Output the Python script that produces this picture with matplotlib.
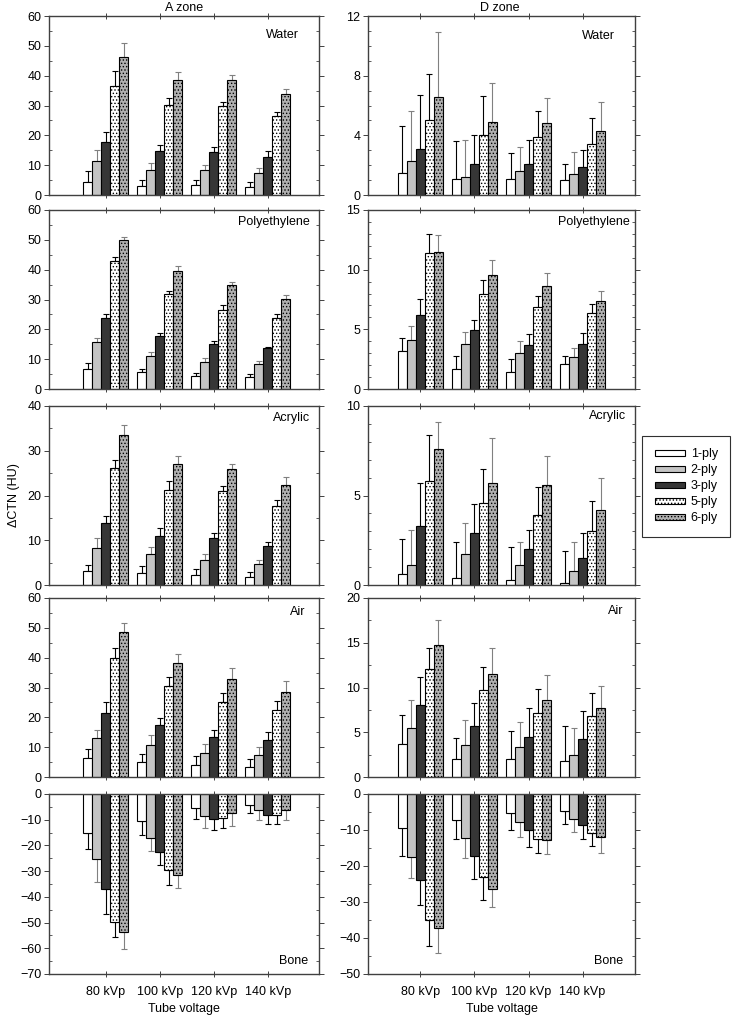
import matplotlib
matplotlib.use('Agg')
import matplotlib.pyplot as plt
import numpy as np
from matplotlib.ticker import MultipleLocator
from matplotlib.patches import Rectangle

plt.rcParams['font.family'] = ['Liberation Sans', 'DejaVu Sans']
plt.rcParams['hatch.linewidth'] = 0.6

voltages = ['80 kVp', '100 kVp', '120 kVp', '140 kVp']
plies = ['1-ply', '2-ply', '3-ply', '5-ply', '6-ply']
materials = ['Water', 'Polyethylene', 'Acrylic', 'Air', 'Bone']

# rows = ply (1,2,3,5,6), columns = tube voltage (80,100,120,140)
a_water = [[4.4, 3.0, 3.3, 2.8], [11.4, 8.4, 8.4, 7.4], [17.6, 14.6, 14.3, 12.9],
           [36.6, 30.1, 29.9, 26.4], [46.2, 38.4, 38.6, 33.9]]
a_water_err = [[3.7, 1.9, 1.6, 1.6], [3.6, 2.2, 1.8, 1.7], [3.5, 2.1, 1.7, 1.9],
               [5.0, 2.5, 1.3, 1.4], [4.6, 2.9, 1.5, 1.7]]
d_water = [[1.47, 1.09, 1.09, 1.0], [2.28, 1.2, 1.6, 1.4], [3.1, 2.08, 2.08, 1.9],
           [5.02, 4.0, 3.9, 3.42], [6.6, 4.91, 4.82, 4.31]]
d_water_err = [[3.13, 2.51, 1.72, 1.08], [3.34, 2.48, 1.61, 1.5], [3.6, 1.92, 1.6, 1.1],
               [3.11, 2.63, 1.72, 1.71], [4.3, 2.59, 1.7, 1.92]]

a_poly = [[6.8, 5.6, 4.4, 4.0], [15.9, 11.1, 9.2, 8.4], [23.9, 17.9, 15.0, 13.6],
          [42.8, 32.0, 26.6, 23.9], [49.9, 39.7, 34.7, 30.2]]
a_poly_err = [[1.9, 1.1, 0.8, 0.9], [1.3, 1.3, 1.2, 1.1], [1.2, 0.9, 1.1, 0.5],
              [1.6, 1.0, 1.4, 1.4], [1.2, 1.6, 1.2, 1.4]]
d_poly = [[3.16, 1.70, 1.45, 2.07], [4.08, 3.80, 2.99, 2.68], [6.17, 4.94, 3.69, 3.80],
          [11.37, 7.99, 6.87, 6.40], [11.45, 9.58, 8.60, 7.37]]
d_poly_err = [[1.11, 1.07, 1.04, 0.7], [1.2, 0.98, 1.0, 0.78], [1.4, 0.84, 0.89, 0.86],
              [1.62, 1.17, 0.9, 0.69], [1.43, 1.2, 1.09, 0.81]]

a_acrylic = [[3.1, 2.75, 2.2, 1.8], [8.2, 6.9, 5.6, 4.7], [13.9, 10.85, 10.6, 8.7],
             [26.2, 21.3, 21.1, 17.7], [33.5, 27.0, 25.9, 22.4]]
a_acrylic_err = [[1.4, 1.45, 1.4, 1.0], [2.3, 1.6, 1.3, 0.9], [1.6, 1.85, 1.1, 0.9],
                 [1.7, 1.9, 1.0, 1.3], [2.3, 1.9, 1.1, 1.7]]
d_acrylic = [[0.6, 0.39, 0.3, 0.09], [1.12, 1.71, 1.12, 0.78], [3.31, 2.9, 1.99, 1.49],
             [5.8, 4.59, 3.9, 2.99], [7.58, 5.7, 5.6, 4.2]]
d_acrylic_err = [[1.98, 1.99, 1.8, 1.81], [1.98, 1.78, 1.26, 1.6], [2.38, 1.6, 1.11, 1.41],
                 [2.6, 1.91, 1.6, 1.71], [1.52, 2.5, 1.6, 1.8]]

a_air = [[6.5, 4.9, 3.9, 3.4], [13.2, 10.6, 8.2, 7.3], [21.5, 17.4, 13.3, 12.3],
         [39.9, 30.6, 25.1, 22.6], [48.6, 38.3, 32.9, 28.6]]
a_air_err = [[3.0, 2.9, 3.2, 2.8], [2.7, 3.4, 2.7, 2.9], [3.8, 2.5, 2.6, 2.8],
             [3.2, 3.0, 2.9, 3.0], [2.9, 2.8, 3.5, 3.7]]
d_air = [[3.68, 2.0, 2.0, 1.82], [5.46, 3.53, 3.31, 2.42], [7.99, 5.72, 4.5, 4.24],
         [12.04, 9.67, 7.1, 6.8], [14.8, 11.56, 8.62, 7.7]]
d_air_err = [[3.23, 2.39, 3.13, 3.83], [3.13, 2.83, 2.79, 3.04], [3.2, 2.53, 3.23, 3.12],
             [2.42, 2.63, 2.71, 2.64], [2.78, 2.83, 2.83, 2.45]]

a_bone = [[-15.3, -10.4, -5.5, -4.2], [-25.4, -17.1, -8.6, -6.4], [-37.0, -22.7, -9.7, -8.2],
          [-49.9, -29.5, -9.2, -8.2], [-53.5, -31.4, -7.5, -6.2]]
a_bone_err = [[6.1, 5.4, 4.2, 3.2], [8.9, 5.1, 4.6, 3.9], [9.6, 5.0, 4.3, 3.5],
              [5.9, 6.0, 4.0, 3.5], [6.8, 5.1, 5.1, 3.9]]
d_bone = [[-9.4, -7.2, -5.3, -4.7], [-17.4, -12.3, -7.8, -6.9], [-23.9, -17.1, -10.0, -8.7],
          [-35.0, -23.1, -12.5, -10.9], [-37.1, -26.3, -12.9, -11.9]]
d_bone_err = [[7.8, 5.2, 4.6, 3.6], [5.8, 5.5, 4.2, 3.7], [7.0, 6.6, 4.7, 3.8],
              [7.3, 6.4, 3.9, 3.6], [7.2, 5.1, 3.7, 4.5]]

a_data = [(a_water, a_water_err), (a_poly, a_poly_err), (a_acrylic, a_acrylic_err),
          (a_air, a_air_err), (a_bone, a_bone_err)]
d_data = [(d_water, d_water_err), (d_poly, d_poly_err), (d_acrylic, d_acrylic_err),
          (d_air, d_air_err), (d_bone, d_bone_err)]

a_ylims = [(0, 60), (0, 60), (0, 40), (0, 60), (-70, 0)]
a_major = [10, 10, 10, 10, 10]
a_minor = [5, 5, 5, 5, 5]
d_ylims = [(0, 12), (0, 15), (0, 10), (0, 20), (-50, 0)]
d_major = [4, 5, 5, 5, 10]
d_minor = [1, 1, 1, 2.5, 5]

# styles
face_colors = ['white', '#c4c4c4', '#363636', 'white', '#b0b0b0']
hatches = [None, None, None, '.....', '.....']
err_colors = ['black', '#808080', 'black', 'black', '#808080']

W, H = 733, 1017
fig = plt.figure(figsize=(W / 100, H / 100), dpi=100)

rows_px = [(16, 195), (210, 389), (406, 585), (598, 777), (794, 974)]
cols_px = [(49, 319), (368, 635)]
col_xlims = [(-1.05, 3.95), (-0.97, 3.97)]

# label offsets (px) from top-right (or bottom-right for Bone)
a_lab_off = [(-20, 19), (-9, 12), (-9, 12), (-14, 14), (-11, 13)]
d_lab_off = [(-20, 20), (-5, 12), (-9, 10), (-12, 13), (-12, 13)]

fs = 9
bw = 1.0 / 6.0
xc = np.arange(len(voltages))

for c, (data, ylims, majs, mins, offs) in enumerate([
        (a_data, a_ylims, a_major, a_minor, a_lab_off),
        (d_data, d_ylims, d_major, d_minor, d_lab_off)]):
    x0, x1 = cols_px[c]
    for r in range(5):
        t, b = rows_px[r]
        ax = fig.add_axes([x0 / W, 1 - b / H, (x1 - x0) / W, (b - t) / H])
        vals, errs = data[r]
        for j in range(len(plies)):
            xs = xc + (j - 2) * bw
            v = np.array(vals[j], dtype=float)
            e = np.array(errs[j], dtype=float)
            ax.bar(xs, v, width=bw, color=face_colors[j], edgecolor='black',
                   linewidth=0.8, hatch=hatches[j], zorder=2)
            if r == 4:
                yerr = [e, np.zeros_like(e)]
            else:
                yerr = [np.zeros_like(e), e]
            ax.errorbar(xs, v, yerr=yerr, fmt='none', ecolor=err_colors[j],
                        elinewidth=0.8, capsize=2.2, capthick=0.8, zorder=1)
        ax.set_xlim(*col_xlims[c])
        ax.set_ylim(*ylims[r])
        ax.yaxis.set_major_locator(MultipleLocator(majs[r]))
        ax.yaxis.set_minor_locator(MultipleLocator(mins[r]))
        ax.set_xticks(xc)
        for sp in ax.spines.values():
            sp.set_color('#404040')
            sp.set_linewidth(1.0)
        ax.tick_params(axis='y', which='major', direction='out', length=3.5,
                       width=0.7, labelsize=fs, right=True, color='#404040', pad=2)
        ax.tick_params(axis='y', which='minor', direction='in', length=2,
                       width=0.6, right=True, color='#404040')
        ax.tick_params(axis='x', which='major', direction='inout', length=4,
                       width=0.7, labelsize=fs, top=True, color='#404040', pad=7)
        if r == 4:
            ax.set_xticklabels(voltages)
            ax.set_xlabel('Tube voltage', fontsize=fs, labelpad=3.5)
        else:
            ax.set_xticklabels([])
        dx, dy = offs[r]
        if r == 4:
            ax.annotate(materials[r], xy=(1, 0), xycoords='axes fraction',
                        xytext=(dx * 0.72, dy * 0.72), textcoords='offset points',
                        ha='right', va='center', fontsize=fs)
        else:
            ax.annotate(materials[r], xy=(1, 1), xycoords='axes fraction',
                        xytext=(dx * 0.72, -dy * 0.72), textcoords='offset points',
                        ha='right', va='center', fontsize=fs)

fig.text(184 / W, 1 - 8 / H, 'A zone', ha='center', va='center', fontsize=fs)
fig.text(500 / W, 1 - 8 / H, 'D zone', ha='center', va='center', fontsize=fs)
fig.text(14 / W, 1 - 495 / H, '\u0394CTN (HU)', ha='center', va='center',
         rotation=90, fontsize=fs)

handles = [Rectangle((0, 0), 1, 1, facecolor=face_colors[j], edgecolor='black',
                     linewidth=0.8, hatch=hatches[j]) for j in range(len(plies))]
leg = fig.legend(handles, plies, loc='upper left',
                 bbox_to_anchor=(642 / W, 1 - 436 / H), borderaxespad=0,
                 fontsize=fs, handlelength=2.4, handleheight=0.4,
                 labelspacing=0.32, handletextpad=0.5, borderpad=1.0,
                 fancybox=False, edgecolor='#303030', framealpha=1)
leg.get_frame().set_linewidth(0.8)

fig.savefig('out.png', dpi=100)
